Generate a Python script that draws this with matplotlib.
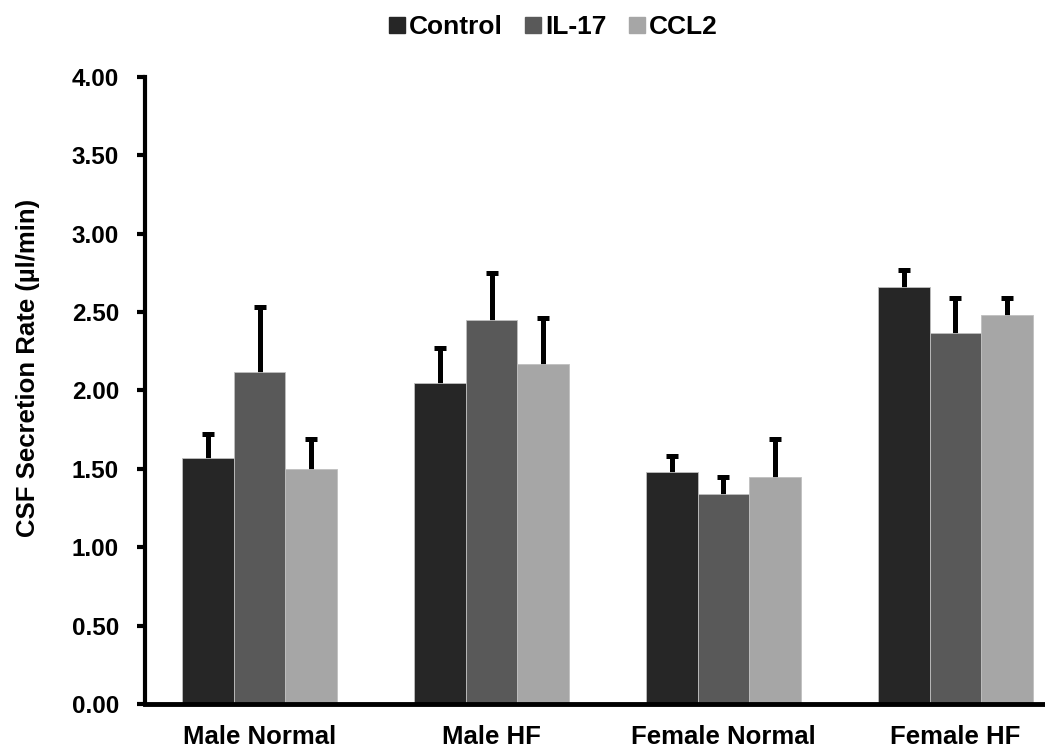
import matplotlib
matplotlib.use("Agg")
import matplotlib.pyplot as plt
import numpy as np
from matplotlib.lines import Line2D

categories = ["Male Normal", "Male HF", "Female Normal", "Female HF"]
series = ["Control", "IL-17", "CCL2"]
control = [1.57, 2.05, 1.48, 2.66]
il17 = [2.12, 2.45, 1.34, 2.37]
ccl2 = [1.50, 2.17, 1.45, 2.48]
control_err = [0.15, 0.22, 0.10, 0.11]
il17_err = [0.41, 0.30, 0.11, 0.22]
ccl2_err = [0.19, 0.29, 0.24, 0.11]
yticks = [0.0, 0.5, 1.0, 1.5, 2.0, 2.5, 3.0, 3.5, 4.0]
colors = ["#262626", "#595959", "#A6A6A6"]

plt.rcParams['font.family'] = ['Liberation Sans', 'DejaVu Sans']
plt.rcParams['font.weight'] = 'bold'

fig = plt.figure(figsize=(10.45, 7.47), dpi=100)
ax = fig.add_axes([0.1388, 0.0576, 0.8612, 0.8393])

x = np.arange(len(categories))
w = 0.223
vals = [control, il17, ccl2]
errs = [control_err, il17_err, ccl2_err]
for i, (v, e) in enumerate(zip(vals, errs)):
    pos = x + (i - 1) * w
    ax.bar(pos, v, width=w, color=colors[i], edgecolor="#BFBFBF", linewidth=0.6, zorder=2)
    ax.errorbar(pos, v, yerr=e, fmt="none", ecolor="black",
                elinewidth=3.6, capsize=4.3, capthick=3.6, zorder=1.5)

ax.set_xlim(-0.4935, 3.386)
ax.set_ylim(0, 4.0)
ax.set_yticks(yticks)
ax.set_yticklabels([f"{t:.2f}" for t in yticks], fontsize=17.5, fontweight='bold')
ax.set_xticks(x)
ax.set_xticklabels(categories, fontsize=18.5, fontweight='bold')
ax.tick_params(axis='x', length=0, pad=15)
ax.tick_params(axis='y', length=5.8, width=3, direction='out', pad=13)
for s in ["top", "right"]:
    ax.spines[s].set_visible(False)
ax.spines["left"].set_linewidth(3)
ax.spines["bottom"].set_linewidth(3.5)
ax.set_ylabel("CSF Secretion Rate (µl/min)", fontsize=18.5, fontweight='bold')
ax.yaxis.set_label_coords(-0.1167, 0.536)

handles = [Line2D([], [], marker='s', linestyle='none', markersize=12,
                  markerfacecolor=c, markeredgecolor=c) for c in colors]
fig.legend(handles, series, loc='center', bbox_to_anchor=(0.528, 0.964), ncol=3,
           frameon=False, prop={'size': 19, 'weight': 'bold'}, handletextpad=0.05,
           columnspacing=0.75, handlelength=0.8, borderpad=0.1)

fig.savefig("out.png", dpi=100)
